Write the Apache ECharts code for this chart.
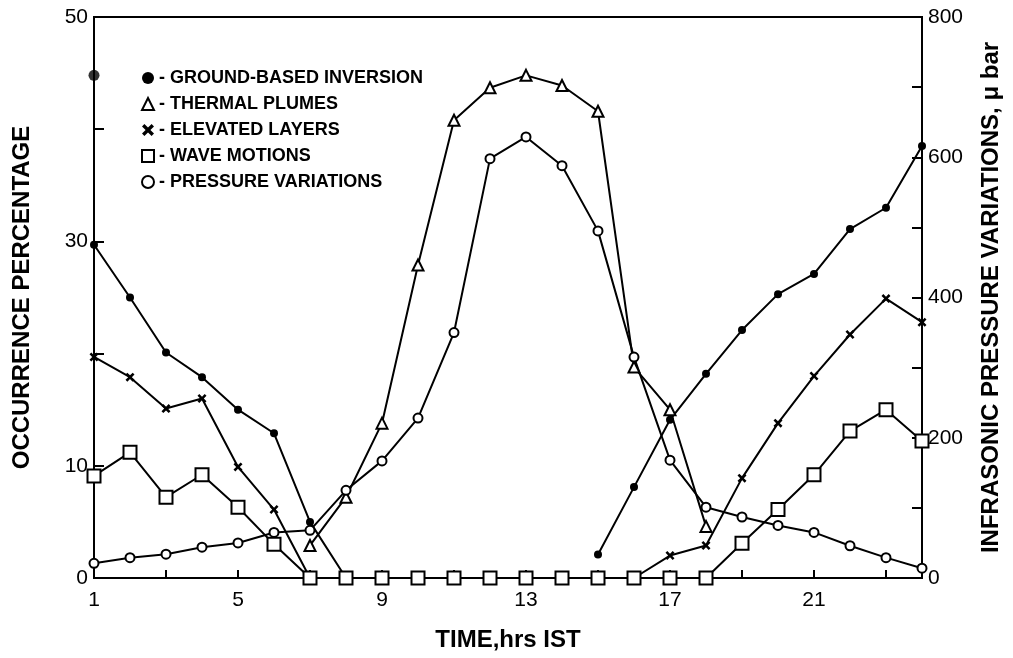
<!DOCTYPE html>
<html>
<head>
<meta charset="utf-8">
<script src="https://cdn.jsdelivr.net/npm/echarts@6/dist/echarts.min.js"></script>
<style>
html,body{margin:0;padding:0;background:#fff;}
#chart{width:1013px;height:658px;}
</style>
</head>
<body>
<div id="chart"></div>
<script>
// ---- data ----
const hours = ['1','2','3','4','5','6','7','8','9','10','11','12','13','14','15','16','17','18','19','20','21','22','23','24'];
const groundBased = [29.7, 25.0, 20.1, 17.9, 15.0, 12.9, 5.0, 0, null, null, null, null, null, null, 2.1, 8.1, 14.1, 18.2, 22.1, 25.3, 27.1, 31.1, 33.0, 38.5];
const groundBasedExtra = [44.8];
const thermalPlumes = [null, null, null, null, null, null, 2.9, 7.2, 13.8, 27.9, 40.8, 43.7, 44.8, 43.9, 41.6, 18.8, 15.0, 4.6, null, null, null, null, null, null];
const elevatedLayers = [19.7, 17.9, 15.1, 16.0, 9.9, 6.1, 0, 0, 0, 0, 0, 0, 0, 0, 0, 0, 2.0, 2.9, 8.9, 13.8, 18.0, 21.7, 24.9, 22.8];
const waveMotions = [9.1, 11.2, 7.2, 9.2, 6.3, 3.0, 0, 0, 0, 0, 0, 0, 0, 0, 0, 0, 0, 0, 3.1, 6.1, 9.2, 13.1, 15.0, 12.2];
const pressureVariations = [21, 29, 34, 44, 50, 65, 68, 125, 167, 228, 350, 598, 629, 588, 495, 315, 168, 101, 87, 75, 65, 46, 29, 14];
const xTickLabels = ['1','5','9','13','17','21'];
const leftTickLabels = [0, 10, 30, 50];
const rightTickLabels = [0, 200, 400, 600, 800];
const seriesNames = ['GROUND-BASED INVERSION','THERMAL PLUMES','ELEVATED LAYERS','WAVE MOTIONS','PRESSURE VARIATIONS'];

const FONT = 'Liberation Sans';
const crossPath = 'path://M0,2 L2,0 L5,3 L8,0 L10,2 L7,5 L10,8 L8,10 L5,7 L2,10 L0,8 L3,5 Z';

const chart = echarts.init(document.getElementById('chart'), null, {renderer:'canvas'});
const lineBase = {type:'line', lineStyle:{color:'#000', width:2}, itemStyle:{color:'#000', borderColor:'#000', borderWidth:2}, animation:false, connectNulls:false, z:3};

chart.setOption({
  backgroundColor:'#fff',
  animation:false,
  grid:{left:94, right:91, top:17, bottom:80, show:true, borderColor:'#000', borderWidth:2, backgroundColor:'transparent'},
  legend:{
    orient:'vertical', left:136, top:64, itemWidth:12, itemHeight:12, itemGap:8,
    selectedMode:false,
    formatter:n => '- ' + n,
    textStyle:{fontFamily:FONT, fontSize:18, fontWeight:'bold', color:'#000', lineHeight:18},
    data:[
      {name:seriesNames[0], icon:'circle', itemStyle:{color:'#000', borderWidth:0}},
      {name:seriesNames[1], icon:'triangle', itemStyle:{color:'#fff', borderColor:'#000', borderWidth:2}},
      {name:seriesNames[2], icon:crossPath, itemStyle:{color:'#000', borderWidth:0}},
      {name:seriesNames[3], icon:'rect', itemStyle:{color:'#fff', borderColor:'#000', borderWidth:2}},
      {name:seriesNames[4], icon:'circle', itemStyle:{color:'#fff', borderColor:'#000', borderWidth:2}}
    ]
  },
  xAxis:{
    type:'category', data:hours, boundaryGap:false,
    name:'TIME,hrs IST', nameLocation:'middle', nameGap:50,
    nameTextStyle:{fontFamily:FONT, fontSize:24, fontWeight:'bold', color:'#000'},
    axisLine:{lineStyle:{color:'#000', width:2}},
    axisTick:{inside:true, length:8, interval:1, lineStyle:{color:'#000', width:2}},
    axisLabel:{interval:0, margin:12, fontFamily:FONT, fontSize:21, color:'#000',
      formatter:v => xTickLabels.includes(v) ? v : ''},
    splitLine:{show:false}
  },
  yAxis:[
    {
      type:'value', min:0, max:50, interval:10, position:'left',
      name:'OCCURRENCE PERCENTAGE', nameLocation:'middle', nameGap:60, nameRotate:90,
      nameTextStyle:{fontFamily:FONT, fontSize:24, fontWeight:'bold', color:'#000'},
      axisLine:{show:true, lineStyle:{color:'#000', width:2}},
      axisTick:{show:true, inside:true, length:10, lineStyle:{color:'#000', width:2}},
      axisLabel:{margin:6, fontFamily:FONT, fontSize:21, color:'#000',
        formatter:v => leftTickLabels.includes(v) ? String(v) : ''},
      splitLine:{show:false}
    },
    {
      type:'value', min:0, max:800, interval:100, position:'right',
      name:'INFRASONIC PRESSURE VARIATIONS, \u03bc bar', nameLocation:'middle', nameGap:57, nameRotate:90,
      nameTextStyle:{fontFamily:FONT, fontSize:24, fontWeight:'bold', color:'#000'},
      axisLine:{show:true, lineStyle:{color:'#000', width:2}},
      axisTick:{show:true, inside:true, length:10, lineStyle:{color:'#000', width:2}},
      axisLabel:{margin:6, fontFamily:FONT, fontSize:21, color:'#000',
        formatter:v => rightTickLabels.includes(v) ? String(v) : ''},
      splitLine:{show:false}
    }
  ],
  series:[
    Object.assign({}, lineBase, {name:seriesNames[0], data:groundBased, symbol:'circle', symbolSize:8,
      itemStyle:{color:'#000', borderWidth:0}}),
    Object.assign({}, lineBase, {name:seriesNames[1], data:thermalPlumes, symbol:'emptyTriangle', symbolSize:11}),
    Object.assign({}, lineBase, {name:seriesNames[2], data:elevatedLayers, symbol:crossPath, symbolSize:9,
      itemStyle:{color:'#000', borderWidth:0}}),
    Object.assign({}, lineBase, {name:seriesNames[3], data:waveMotions, symbol:'emptyRect', symbolSize:13}),
    Object.assign({}, lineBase, {name:seriesNames[4], data:pressureVariations, yAxisIndex:1, symbol:'emptyCircle', symbolSize:9}),
    {type:'scatter', name:'extra', data:groundBasedExtra, symbol:'circle', symbolSize:11, itemStyle:{color:'#000'}, animation:false, z:4}
  ]
});
</script>
</body>
</html>
